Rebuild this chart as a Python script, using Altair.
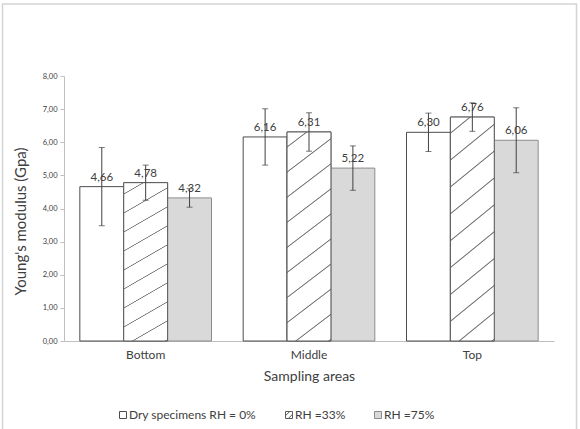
import altair as alt
import pandas as pd

# Young's modulus by sampling area and conditioning humidity
areas = ["Bottom", "Middle", "Top"]
series = ["Dry specimens RH = 0%", "RH =33%", "RH =75%"]
dry = [4.66, 6.16, 6.30]
rh33 = [4.78, 6.31, 6.76]
rh75 = [4.32, 5.22, 6.06]
dry_sd = [1.18, 0.85, 0.58]
rh33_sd = [0.53, 0.58, 0.43]
rh75_sd = [0.28, 0.67, 0.98]

rows = []
for vals, sds, name in [(dry, dry_sd, series[0]), (rh33, rh33_sd, series[1]), (rh75, rh75_sd, series[2])]:
    for area, v, sd in zip(areas, vals, sds):
        rows.append({"area": area, "series": name, "value": v, "lo": v - sd, "hi": v + sd})
df = pd.DataFrame(rows)

FONT = "Lato"
INK = "#404040"
W, H = 490, 265


def hatch(period, slope, half, line="#7a7a7a", bg="#ffffff"):
    """Diagonal stripes as a linear gradient in bounding-box units."""
    k = (slope + 1) / (slope ** 2 + 1)
    p = period / (slope + 1)
    stops = [{"offset": 0, "color": bg}]
    t = p * 0.6
    while t + half < 1:
        stops += [
            {"offset": round(t - half, 5), "color": bg},
            {"offset": round(t - half * 0.2, 5), "color": line},
            {"offset": round(t + half * 0.2, 5), "color": line},
            {"offset": round(t + half, 5), "color": bg},
        ]
        t += p
    stops.append({"offset": 1, "color": bg})
    return {"gradient": "linear", "x1": 0, "y1": 0, "x2": k * slope, "y2": k, "stops": stops}


bar_hatch = hatch(0.12, 0.16, 0.0045)

# legend swatches: plain squares, and a square with two diagonal strokes
SQUARE = "M-1,-1H1V1H-1Z"
HATCHED_SQUARE = "M-1,-1H1V1H-1Z M-1,0.2L0.2,-1 M-0.2,1L1,-0.2"

legend = alt.Legend(orient="none", legendX=53, legendY=333, direction="horizontal",
                    columns=3, columnPadding=26, title=None, padding=0,
                    symbolSize=49, symbolStrokeWidth=1, symbolOpacity=1, labelOffset=0,
                    labelFontSize=12, labelColor=INK, labelFont=FONT)

fill_scale = alt.Scale(domain=series, range=["#ffffff", "#ffffff", "#d9d9d9"])
stroke_scale = alt.Scale(domain=series, range=["#4d4d4d", "#5a5a5a", "#8c8c8c"])
shape_scale = alt.Scale(domain=series, range=[SQUARE, HATCHED_SQUARE, SQUARE])

x_axis = alt.Axis(labelAngle=0, ticks=False, domainColor="#bfbfbf",
                  labelFontSize=12, labelColor=INK, labelPadding=8,
                  titleFontSize=14, titleColor=INK, titleFontWeight="normal",
                  titlePadding=9, labelFont=FONT, titleFont=FONT)
x_enc = alt.X("area:N", sort=areas, title="Sampling areas",
              scale=alt.Scale(paddingInner=0.194, paddingOuter=0.097), axis=x_axis)
xo_enc = alt.XOffset("series:N", sort=series, scale=alt.Scale(paddingInner=0, paddingOuter=0))

# 0..8 in unit steps
y_scale = alt.Scale(domain=[0, 8], nice=False, zero=True)
y_axis = alt.Axis(tickCount=8, grid=False, labelOverlap=False, labelSeparation=0,
                  labelExpr="replace(format(datum.value, '.2f'), '.', ',')",
                  labelFontSize=7.5, labelColor=INK, labelFont=FONT,
                  tickSize=4, tickColor="#bfbfbf", domainColor="#bfbfbf",
                  labelPadding=3, titleFontSize=15, titleColor=INK,
                  titleFontWeight="normal", titleFont=FONT,
                  titleX=-44, titleY=145, titleBaseline="middle")
Y_TITLE = "Young's modulus  (Gpa)"


def y_enc(field):
    return alt.Y(field, scale=y_scale, axis=y_axis, title=Y_TITLE)


base = alt.Chart(df)

bars = base.mark_bar(strokeWidth=1).encode(
    x=x_enc,
    xOffset=xo_enc,
    y=y_enc("value:Q"),
    fill=alt.Fill("series:N", sort=series, scale=fill_scale, legend=legend),
    stroke=alt.Stroke("series:N", sort=series, scale=stroke_scale, legend=legend),
)

# invisible points that only carry the legend swatch shapes
swatches = base.transform_filter("false").mark_point(filled=False).encode(
    shape=alt.Shape("series:N", sort=series, scale=shape_scale, legend=legend),
    fill=alt.Fill("series:N", sort=series, scale=fill_scale, legend=legend),
    stroke=alt.Stroke("series:N", sort=series, scale=stroke_scale, legend=legend),
)

hatched = base.transform_filter(alt.datum.series == series[1]).mark_bar(
    fill=bar_hatch, stroke="#5a5a5a", strokeWidth=1
).encode(x=x_enc, xOffset=xo_enc, y=y_enc("value:Q"))

err = base.mark_rule(color=INK, strokeWidth=1).encode(
    x=x_enc, xOffset=xo_enc, y=y_enc("lo:Q"), y2="hi:Q")
cap_lo = base.mark_tick(color=INK, size=6, thickness=1).encode(
    x=x_enc, xOffset=xo_enc, y=y_enc("lo:Q"))
cap_hi = base.mark_tick(color=INK, size=6, thickness=1).encode(
    x=x_enc, xOffset=xo_enc, y=y_enc("hi:Q"))

labels = base.transform_calculate(
    txt="replace(format(datum.value, '.2f'), '.', ',')"
).mark_text(fontSize=11.5, color=INK, font=FONT, dy=-6, baseline="alphabetic").encode(
    x=x_enc, xOffset=xo_enc, y=y_enc("value:Q"), text="txt:N")

frame = alt.Chart(pd.DataFrame({"k": [0]})).mark_rect(
    fill=None, stroke="#d4d4d4", strokeWidth=1.5
).encode(x=alt.value(-61.5), x2=alt.value(512.5), y=alt.value(-72), y2=alt.value(358))

chart = alt.layer(frame, bars, swatches, hatched, err, cap_lo, cap_hi, labels).properties(
    width=W, height=H,
    autosize=alt.AutoSizeParams(type="none"),
    padding={"left": 64, "top": 76, "right": 26, "bottom": 88},
    background="white",
).configure_view(stroke=None)

chart.save("out.html", embed_options={"renderer": "svg", "actions": False})
